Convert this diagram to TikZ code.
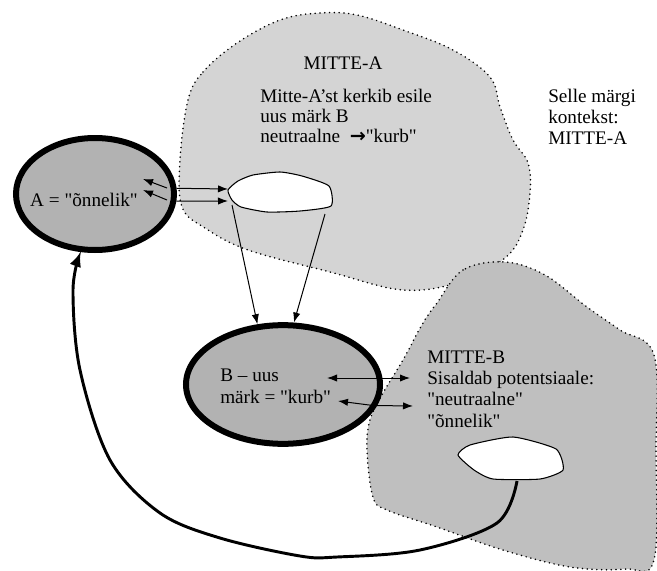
\documentclass[tikz,border=0pt]{standalone}
\usepackage{fontspec}
\setmainfont{Liberation Serif}[Ligatures=TeXOff]
\newfontfamily\arrowfont{DejaVu Sans}
\usetikzlibrary{shapes.geometric,arrows.meta}

\begin{document}
\begin{tikzpicture}[x=0.75pt,y=-0.75pt,
        context_a/.style={fill=black!17, draw, line width=1.3pt, dash pattern=on 0pt off 3.6pt, line cap=round},
        context_b/.style={fill=black!25, draw, line width=1.3pt, dash pattern=on 0pt off 3.6pt, line cap=round},
        blob/.style={fill=white, draw, line width=0.8pt},
        sign/.style={ellipse, draw, line width=4.5pt, fill=black!30, inner sep=0pt},
        txt/.style={font=\fontsize{14.4pt}{15pt}\selectfont, inner sep=0pt, align=left},
        thin_arrow/.style={-{Latex[length=7.5pt,width=5.5pt]}, line width=0.75pt},
        both_arrow/.style={{Latex[length=7.5pt,width=5.5pt]}-{Latex[length=7.5pt,width=5.5pt]}, line width=0.75pt},
        back_arrow/.style={-{Latex[length=11pt,width=9pt]}, line width=2.2pt}
    ]
        \useasboundingbox (0,0) rectangle (657,571);

        % Contexts
        \draw[context_a] plot[smooth cycle, tension=0.6] coordinates {(188,100) (203,72) (237,43) (280,20) (320,13) (357,15) (403,30) (453,50) (490,77) (500,107) (513,140) (528,163) (530,193) (523,230) (505,258) (460,282) (403,290) (330,272) (248,250) (205,228) (182,207) (180,160)};
        \draw[context_b] plot[smooth cycle, tension=0.6] coordinates {(505,262) (463,270) (437,303) (423,323) (403,360) (383,393) (370,420) (367,450) (373,497) (387,510) (437,527) (503,550) (570,567) (625,569) (654,560) (656,450) (654,355) (620,330) (587,307) (545,275)};

        % White spots
        \draw[blob] plot[smooth cycle, tension=0.35] coordinates {(228,190) (238,181) (253,175) (280,172) (302,176) (329,186) (331,206) (300,211) (267,212) (241,207) (232,200)};
        \draw[blob] plot[smooth cycle, tension=0.35] coordinates {(458,455) (470,445) (513,437) (556,449) (563,470) (540,479) (493,479) (474,470)};

        % Signs
        \node[sign, minimum width=118.5pt, minimum height=84pt] (signA) at (95,194) {};
        \node[sign, minimum width=145.5pt, minimum height=89pt] (signB) at (283,384.5) {};

        % Texts
        \node[txt, anchor=base] (signA_text) at (84,206) {A = "õnnelik"};
        \node[txt, anchor=base west, font=\fontsize{14.4pt}{16pt}\selectfont] (signB_text) at (220,403) {B – uus\\märk = "kurb"};
        \node[txt, anchor=base] (mitteA_title) at (343,69) {MITTE-A};
        \node[txt, anchor=base west, font=\fontsize{14.4pt}{15pt}\selectfont] (mitteA_text) at (260,142) {Mitte-A’st kerkib esile\\uus märk B\\neutraalne \ {\arrowfont\bfseries →}"kurb"};
        \node[txt, anchor=base west, font=\fontsize{14.4pt}{15.75pt}\selectfont] (context_text) at (548,144) {Selle märgi\\kontekst:\\MITTE-A};
        \node[txt, anchor=base west, font=\fontsize{14.4pt}{16pt}\selectfont] (mitteB_text) at (427,427) {MITTE-B\\Sisaldab potentsiaale:\\"neutraalne"\\"õnnelik"};

        % Connectors
        \coordinate (spotA_in1) at (228,189);
        \coordinate (spotA_in2) at (228,201);
        \coordinate (spotA_out1) at (232,205);
        \coordinate (spotA_out2) at (325,214);
        \coordinate (signA_in1) at (143,179);
        \coordinate (signA_in2) at (143,190);
        \coordinate (signA_from1) at (167,188);
        \coordinate (signA_from2) at (167,200);
        \coordinate (signB_left1) at (327,378);
        \coordinate (mitteB_right1) at (410,378);
        \coordinate (signB_left2) at (338,401);
        \coordinate (signB_bend) at (373,405.5);
        \coordinate (mitteB_right2) at (413,406);
        \coordinate (spotB_bottom) at (517,481);

        \draw[thin_arrow] (signA.4) -- (spotA_in1);
        \draw[thin_arrow] (signA.-5) -- (spotA_in2);
        \draw[thin_arrow] (signA_from1) -- (signA_in1);
        \draw[thin_arrow] (signA_from2) -- (signA_in2);
        \draw[thin_arrow] (spotA_out1) -- (signB.113);
        \draw[thin_arrow] (spotA_out2) -- (signB.80);
        \draw[both_arrow] (signB_left1) -- (mitteB_right1);
        \draw[both_arrow] (signB_left2) -- (signB_bend) -- (mitteB_right2);
        \draw[back_arrow] plot[smooth, tension=0.55] coordinates {(spotB_bottom) (497,523) (420,550) (337,557) (300,556) (220,538) (160,513) (110,460) (80,370) (73,290) (signA.256)};

    \end{tikzpicture}
\end{document}
